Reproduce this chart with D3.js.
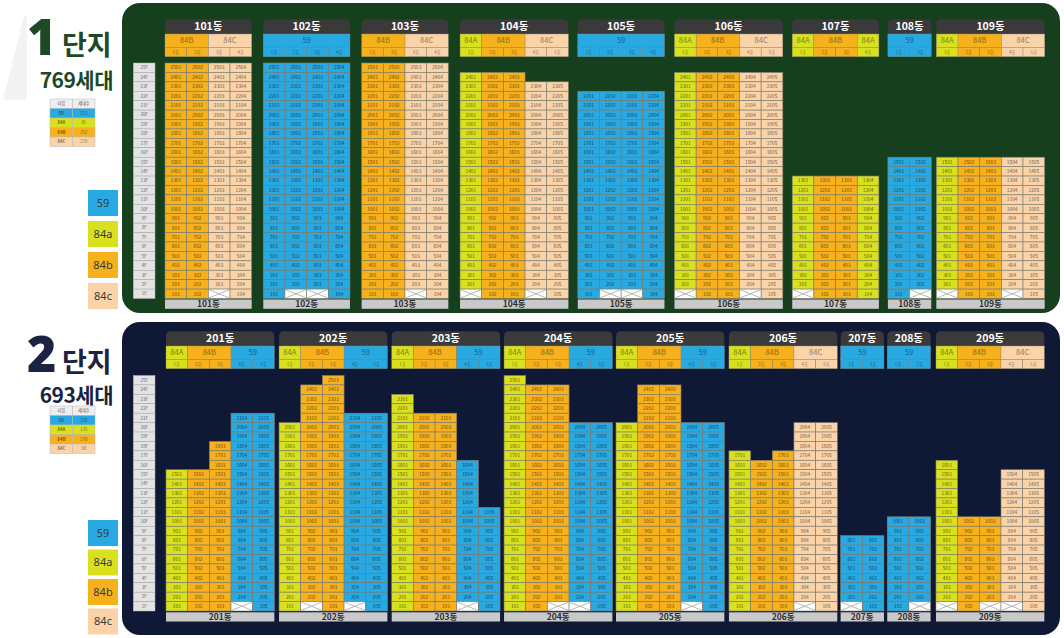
<!DOCTYPE html>
<html><head><meta charset="utf-8">
<script src="https://cdn.jsdelivr.net/npm/d3@7"></script>
<style>body{margin:0;background:#fff;} svg{display:block;font-family:"Noto Sans CJK KR","Noto Sans",sans-serif;}</style>
</head><body><svg id="c" width="1064" height="638"></svg>
<script>
// ---------------- DATA ----------------
const typeNames = ["59","84A","84B","84C"];
const typeLegendLabels = ["59","84a","84b","84c"];
const floorLabels = ["25F","24F","23F","22F","21F","20F","19F","18F","17F","16F","15F","14F","13F","12F","11F","10F","9F","8F","7F","6F","5F","4F","3F","2F","1F"];
const unitLabels = ["1호","2호","3호","4호","5호"];
const tableHeader = ["타입","세대수"];

const c1Title = ["1","단지","769세대"];
const c1Buildings = ["101동","102동","103동","104동","105동","106동","107동","108동","109동"];
const c1UnitTypes = [
  ["84B","84B","84C","84C"],
  ["59","59","59","59"],
  ["84B","84B","84C","84C"],
  ["84A","84B","84B","84C","84C"],
  ["59","59","59","59"],
  ["84A","84B","84B","84C","84C"],
  ["84A","84B","84B","84A"],
  ["59","59"],
  ["84A","84B","84B","84C","84C"]
];
const c1TopFloors = [[25,25,25,25],[25,25,25,25],[25,25,25,25],[24,24,24,23,23],[22,22,22,22],[24,24,24,24,24],[13,13,13,13],[15,15],[15,15,15,15,15]];
const c1MissingGround = [[3],[2,3],[3],[1,4],[2,3],[1,4],[1],[2],[1,4]];
const c1TypeCounts = [213,85,252,219];

const c2Title = ["2","단지","693세대"];
const c2Buildings = ["201동","202동","203동","204동","205동","206동","207동","208동","209동"];
const c2UnitTypes = [
  ["84A","84B","84B","59","59"],
  ["84A","84B","84B","59","59"],
  ["84A","84B","84B","59","59"],
  ["84A","84B","84B","59","59"],
  ["84A","84B","84B","59","59"],
  ["84A","84B","84B","84C","84C"],
  ["59","59"],
  ["59","59"],
  ["84A","84B","84B","84C","84C"]
];
const c2TopFloors = [[15,15,18,21,21],[20,24,25,21,21],[23,21,21,16,11],[25,24,24,20,20],[20,24,24,20,20],[17,16,17,20,20],[8,8],[10,10],[16,10,10,15,15]];
const c2MissingGround = [[4],[2,4],[4],[3,4],[4],[4],[1],[2],[1,3,4]];
const c2TypeCounts = [220,135,270,68];

// ---------------- STYLE / LAYOUT ----------------
const color = d3.scaleOrdinal().domain(typeNames).range(["#29a9e1","#d9e11f","#f6b11d","#fad3a9"]);
const L1 = {bg:"#163f1e", title:"#1d4a24", px:122, py:3, pw:938, ph:310, rowTop:63, rowH:9.42,
  hdr:[19.3,34,47.3,56.7], ftr:[299.5,308.8], x0:165, unitW:21.67, gaps:[11.6,11.7,11.7,9.4,10,9.4,9,5.1],
  titleY:[55,55,88], tableY:99, legendY:190, legendStep:31};
const L2 = {bg:"#0f1834", title:"#1b2342", px:122, py:322, pw:938, ph:313, rowTop:375.5, rowH:9.42,
  hdr:[331.3,346,359.3,368.7], ftr:[612.3,621.5], x0:166, unitW:21.67, gaps:[4.7,4.3,4,3.6,4.6,3.3,3.3,5.4],
  titleY:[372,372,403], tableY:406, legendY:520, legendStep:29.5};

const svg = d3.select("#c");
const floors = d3.range(25,0,-1);

function topRounded(x,y,w,h,r){
  return `M${x},${y+h}V${y+r}Q${x},${y} ${x+r},${y}H${x+w-r}Q${x+w},${y} ${x+w},${y+r}V${y+h}Z`;
}

// faint watermark
svg.append("path").attr("d","M3,100 L24,16 L27,16 L27,100 Z").attr("fill","#f3f3f3");

function drawComplex(L, title, names, types, tops, missing, counts){
  const g = svg.append("g");
  // left titles
  g.append("text").attr("x",27).attr("y",L.titleY[0]).attr("font-size",50).attr("font-weight",900)
    .attr("fill",L.title).attr("font-family","Noto Sans, sans-serif").text(title[0]);
  g.append("text").attr("x",62).attr("y",L.titleY[1]).attr("font-size",27).attr("font-weight",700)
    .attr("fill",L.title).text(title[1]);
  g.append("text").attr("x",113).attr("y",L.titleY[2]).attr("text-anchor","end").attr("font-size",21).attr("font-weight",700)
    .attr("letter-spacing",-0.5).attr("fill",L.title).text(title[2]);
  // small table
  const tb = g.append("g");
  const tx = [50,72.7,95], th = 9.5;
  tableHeader.forEach((t,i)=>{
    tb.append("rect").attr("x",tx[i]).attr("y",L.tableY).attr("width",tx[i+1]-tx[i]).attr("height",th)
      .attr("fill","#eeeeee").attr("stroke","#b8b8b8").attr("stroke-width",0.5);
    tb.append("text").attr("x",(tx[i]+tx[i+1])/2).attr("y",L.tableY+th/2).attr("dy","0.35em").attr("text-anchor","middle")
      .attr("font-size",4.2).attr("fill","#555").text(t);
  });
  typeNames.forEach((t,r)=>{
    const yy = L.tableY+th*(r+1);
    [t, counts[r]].forEach((v,i)=>{
      tb.append("rect").attr("x",tx[i]).attr("y",yy).attr("width",tx[i+1]-tx[i]).attr("height",th)
        .attr("fill",color(t)).attr("stroke","#b8b8b8").attr("stroke-width",0.5);
      tb.append("text").attr("x",(tx[i]+tx[i+1])/2).attr("y",yy+th/2).attr("dy","0.35em").attr("text-anchor","middle")
        .attr("font-size",4.3).attr("font-weight",i===0?700:400).attr("fill",d3.color(color(t)).darker(1.8)).text(v);
    });
  });
  // color legend boxes
  typeNames.forEach((t,i)=>{
    const yy = L.legendY + i*L.legendStep;
    g.append("rect").attr("x",88).attr("y",yy).attr("width",30).attr("height",26).attr("fill",color(t));
    g.append("text").attr("x",103).attr("y",yy+13).attr("dy","0.36em").attr("text-anchor","middle")
      .attr("font-size",11).attr("fill","#3a3a3a").attr("font-family","Noto Sans, sans-serif").text(typeLegendLabels[i]);
  });
  // panel
  g.append("rect").attr("x",L.px).attr("y",L.py).attr("width",L.pw).attr("height",L.ph).attr("rx",18).attr("fill",L.bg);
  const y = d3.scaleBand().domain(floors).range([L.rowTop, L.rowTop + 25*L.rowH]);
  // floor labels
  const lab = g.append("g");
  lab.selectAll("rect").data(floors).join("rect").attr("x",133.3).attr("width",21.7)
    .attr("y",d=>y(d)).attr("height",y.bandwidth()).attr("fill","#e3e3e3").attr("stroke","#b0b0b0").attr("stroke-width",0.5);
  lab.selectAll("text").data(floors).join("text").attr("x",144.2).attr("y",d=>y(d)+y.bandwidth()/2).attr("dy","0.35em")
    .attr("text-anchor","middle").attr("font-size",4.6).attr("fill","#666").text((d,i)=>floorLabels[i]);

  let x0 = L.x0;
  names.forEach((name,bi)=>{
    if(bi>0) x0 += L.gaps[bi-1];
    const ut = types[bi], n = ut.length, w = n*L.unitW;
    const units = d3.range(1,n+1);
    const xs = d3.scaleBand().domain(units).range([x0,x0+w]);
    const bw = xs.bandwidth();
    const bg = g.append("g");
    // header
    bg.append("path").attr("d",topRounded(x0,L.hdr[0],w,L.hdr[1]-L.hdr[0],5)).attr("fill","#3a3a3a");
    bg.append("text").attr("x",x0+w/2).attr("y",(L.hdr[0]+L.hdr[1])/2).attr("dy","0.36em").attr("text-anchor","middle")
      .attr("font-size",10.5).attr("font-weight",700).attr("fill","#fff").text(name);
    // type groups
    const groups = [];
    ut.forEach((t,i)=>{ if(groups.length && groups[groups.length-1].t===t) groups[groups.length-1].n++; else groups.push({t,s:i+1,n:1}); });
    groups.forEach(gr=>{
      bg.append("rect").attr("x",xs(gr.s)).attr("y",L.hdr[1]).attr("width",gr.n*bw).attr("height",L.hdr[2]-L.hdr[1])
        .attr("fill",color(gr.t)).attr("stroke","#8f8f80").attr("stroke-width",0.4);
      bg.append("text").attr("x",xs(gr.s)+gr.n*bw/2).attr("y",(L.hdr[1]+L.hdr[2])/2).attr("dy","0.36em").attr("text-anchor","middle")
        .attr("font-size",7.6).attr("fill",d3.color(color(gr.t)).darker(1.5)).text(gr.t);
    });
    units.forEach((u,i)=>{
      bg.append("rect").attr("x",xs(u)).attr("y",L.hdr[2]).attr("width",bw).attr("height",L.hdr[3]-L.hdr[2])
        .attr("fill",color(ut[i])).attr("stroke","#8f8f80").attr("stroke-width",0.4);
      bg.append("text").attr("x",xs(u)+bw/2).attr("y",(L.hdr[2]+L.hdr[3])/2).attr("dy","0.36em").attr("text-anchor","middle")
        .attr("font-size",4.4).attr("fill",d3.color(color(ut[i])).darker(1.6)).text(unitLabels[i]);
    });
    // cells
    units.forEach((u,i)=>{
      const fl = floors.filter(f=>f<=tops[bi][i]);
      fl.forEach(f=>{
        const miss = f===1 && missing[bi].includes(u);
        const cx = xs(u), cy = y(f), ch = y.bandwidth();
        bg.append("rect").attr("x",cx).attr("y",cy).attr("width",bw).attr("height",ch)
          .attr("fill",miss?"#ffffff":color(ut[i])).attr("stroke","#7e7e72").attr("stroke-width",0.6);
        if(miss){
          bg.append("path").attr("d",`M${cx+0.6},${cy+0.6}L${cx+bw-0.6},${cy+ch-0.6}M${cx+bw-0.6},${cy+0.6}L${cx+0.6},${cy+ch-0.6}`)
            .attr("stroke","#9a9a9a").attr("stroke-width",0.7);
        } else {
          bg.append("text").attr("x",cx+bw/2).attr("y",cy+ch/2).attr("dy","0.36em").attr("text-anchor","middle")
            .attr("font-size",4.8).attr("fill",d3.color(color(ut[i])).darker(2.4)).text(`${f}${String(u).padStart(2,"0")}`);
        }
      });
    });
    // footer
    bg.append("rect").attr("x",x0).attr("y",L.ftr[0]).attr("width",w).attr("height",L.ftr[1]-L.ftr[0]).attr("fill","#c9c9c9");
    bg.append("text").attr("x",x0+w/2).attr("y",(L.ftr[0]+L.ftr[1])/2).attr("dy","0.37em").attr("text-anchor","middle")
      .attr("font-size",8.5).attr("font-weight",700).attr("fill","#2e2e2e").text(name);
    x0 += w;
  });
}

drawComplex(L1, c1Title, c1Buildings, c1UnitTypes, c1TopFloors, c1MissingGround, c1TypeCounts);
drawComplex(L2, c2Title, c2Buildings, c2UnitTypes, c2TopFloors, c2MissingGround, c2TypeCounts);
</script></body></html>
